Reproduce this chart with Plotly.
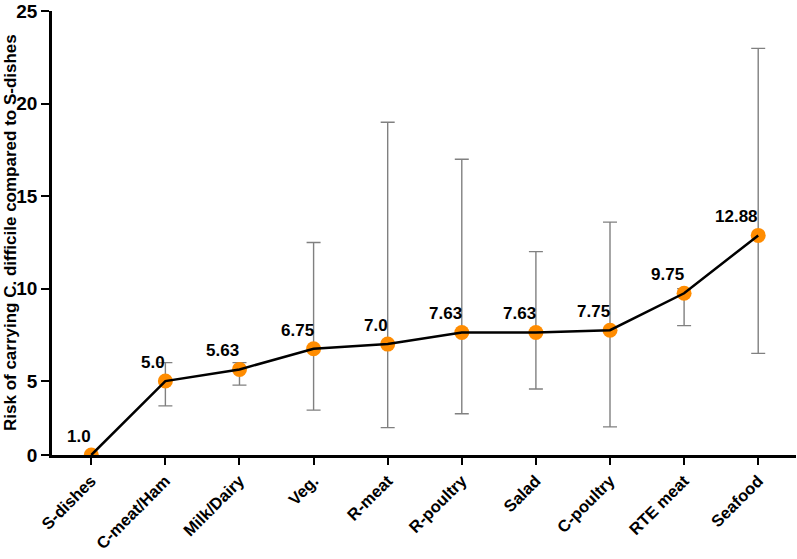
import plotly.graph_objects as go

categories = ["S-dishes", "C-meat/Ham", "Milk/Dairy", "Veg.", "R-meat",
              "R-poultry", "Salad", "C-poultry", "RTE meat", "Seafood"]
risk = [1.0, 5.0, 5.63, 6.75, 7.0, 7.63, 7.63, 7.75, 9.75, 12.88]
upper = [None, 6.0, 6.0, 12.5, 19.0, 17.0, 12.0, 13.6, 10.0, 23.0]
lower = [None, 3.66, 4.78, 3.43, 2.48, 3.23, 4.57, 2.52, 8.0, 6.5]
label_text = ["1.0", "5.0", "5.63", "6.75", "7.0", "7.63", "7.63", "7.75", "9.75", "12.88"]
ytick_vals = [1, 5, 10, 15, 20, 25]
ytick_text = ["0", "5", "10", "15", "20", "25"]

err_plus = [None if u is None else u - v for u, v in zip(upper, risk)]
err_minus = [None if l is None else v - l for l, v in zip(lower, risk)]

xs = list(range(len(categories)))

fig = go.Figure()
fig.add_trace(go.Scatter(
    x=xs, y=risk, mode="markers",
    marker=dict(color="#FF8C00", size=15, line=dict(width=0)),
    error_y=dict(type="data", array=err_plus, arrayminus=err_minus,
                 color="#808080", thickness=1.4, width=7, symmetric=False),
    showlegend=False, hoverinfo="skip"))
fig.add_trace(go.Scatter(
    x=xs, y=risk, mode="lines",
    line=dict(color="black", width=2.5),
    showlegend=False))

for x, y, t in zip(xs, risk, label_text):
    fig.add_annotation(x=x, y=y, text=t, showarrow=False,
                       xanchor="right", yanchor="bottom", xshift=2, yshift=7,
                       font=dict(family="Liberation Sans", size=17, color="black", weight="bold"))

fig.update_layout(
    width=797, height=559,
    margin=dict(l=52, r=1, t=7, b=104),
    plot_bgcolor="white", paper_bgcolor="white",
    font=dict(family="Liberation Sans", color="black"),
    xaxis=dict(
        range=[-0.53, 9.51], tickmode="array", tickvals=xs, ticktext=categories,
        tickangle=-45, showgrid=False, zeroline=False,
        showline=True, linecolor="black", linewidth=2.5,
        ticks="outside", ticklen=7, tickwidth=2, tickcolor="black",
        tickfont=dict(size=16.5, weight="bold", color="black")),
    yaxis=dict(
        range=[1, 25.02], tickmode="array", tickvals=ytick_vals, ticktext=ytick_text,
        showgrid=False, zeroline=False, ticklabeloverflow="allow",
        showline=True, linecolor="black", linewidth=2.5,
        ticks="outside", ticklen=8, tickwidth=2, tickcolor="black",
        tickfont=dict(size=19, weight="bold", color="black")),
)

fig.add_annotation(
    text="Risk of carrying C. difficile compared to S-dishes",
    xref="paper", yref="paper", x=(10 - 52) / 744, y=0.5,
    xanchor="center", yanchor="middle", textangle=-90, showarrow=False,
    font=dict(family="Liberation Sans", size=17, color="black", weight="bold"))

fig.write_html("out.html", config={"displayModeBar": False},
               post_script="document.body.style.margin='0';document.body.style.overflow='hidden';")
